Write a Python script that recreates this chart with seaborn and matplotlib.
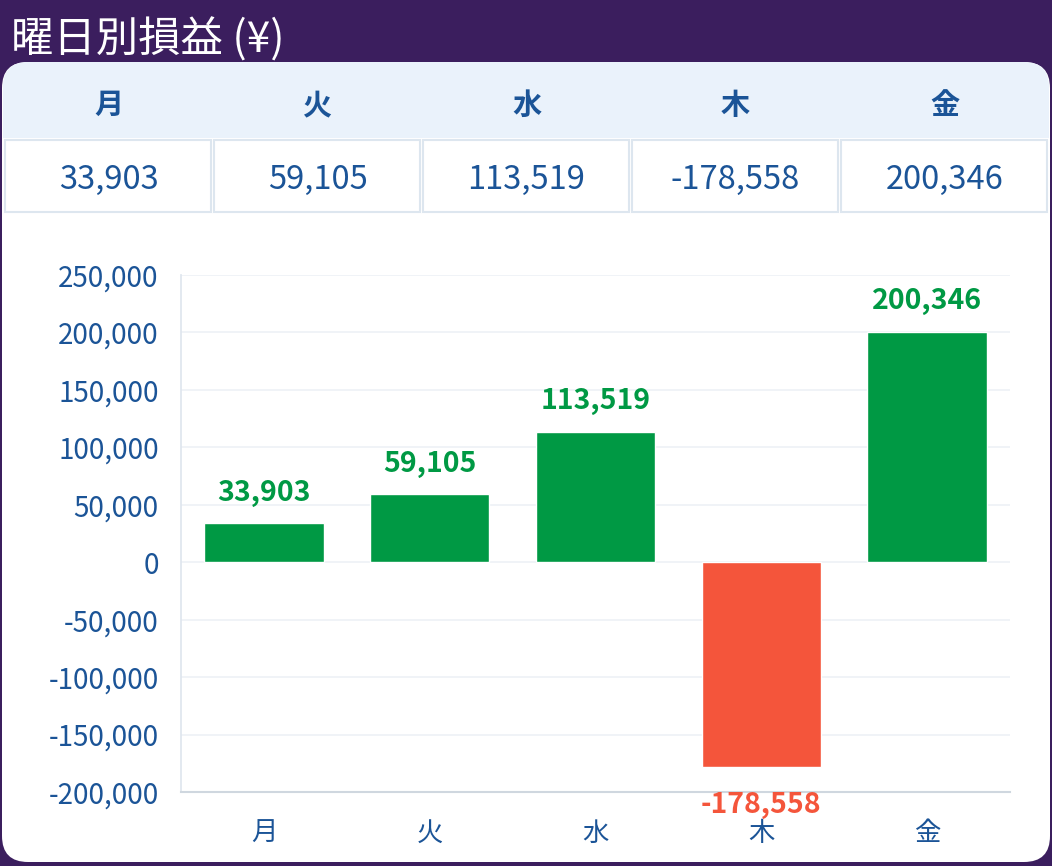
import matplotlib
matplotlib.use("Agg")
import matplotlib.pyplot as plt
from matplotlib.patches import FancyBboxPatch, Rectangle
from matplotlib.transforms import IdentityTransform
from matplotlib.ticker import FuncFormatter
import seaborn as sns
import pandas as pd

# data
days = ['月', '火', '水', '木', '金']
pnl = [33903, 59105, 113519, -178558, 200346]
y_ticks = [-200000, -150000, -100000, -50000, 0, 50000, 100000, 150000, 200000, 250000]

purple = '#3b1e5e'
blue = '#1b5497'
green = '#009944'
red = '#f4553b'

sns.set_theme(style="white")
plt.rcParams['font.family'] = ['Noto Sans CJK JP', 'DejaVu Sans']

W, H = 1052, 866
fig = plt.figure(figsize=(W / 100, H / 100), dpi=100)
fig.patch.set_facecolor(purple)
px = IdentityTransform()


def fx(x):
    return x / W


def fy(y):
    return 1 - y / H


def box(x, y_top, w, h, color, r=0, ec='none', lw=0, z=0):
    # pixel box, y measured from the top of the picture
    if r:
        p = FancyBboxPatch((x, H - y_top - h), w, h,
                           boxstyle=f"round,pad=0,rounding_size={r}",
                           transform=px, facecolor=color, edgecolor=ec,
                           linewidth=lw, zorder=z)
    else:
        p = Rectangle((x, H - y_top - h), w, h, transform=px, facecolor=color,
                      edgecolor=ec, linewidth=lw, zorder=z)
    fig.patches.append(p)


# title
fig.text(fx(11), fy(40), '曜日別損益 (¥)', color='white', fontsize=30.5,
         va='center', ha='left')

# card
box(2, 62, 1048, 800, 'white', r=26, z=-3)
box(3, 62, 1046, 120, '#eaf2fb', r=25, z=-2)
box(3, 138, 1046, 80, 'white', z=-1)

# table
col_w = 209
x0 = 4
for i, (d, v) in enumerate(zip(days, pnl)):
    left = x0 + i * col_w
    cx = left + col_w / 2
    fig.text(fx(cx), fy(105), d, color=blue, fontsize=21, fontweight='bold',
             ha='center', va='center')
    box(left + 1, 140, col_w - 3, 72, 'white', ec='#dde6ef', lw=1.5, z=0)
    fig.text(fx(cx), fy(180), f'{v:,}', color=blue, fontsize=23.5,
             ha='center', va='center')

# bar chart
ax = fig.add_axes([fx(181), fy(792), fx(1010 - 181), (792 - 275) / H])
ax.set_facecolor('none')
df = pd.DataFrame({'day': days, 'pnl': pnl})
colors = {d: (green if v >= 0 else red) for d, v in zip(days, pnl)}
sns.barplot(data=df, x='day', y='pnl', hue='day', palette=colors,
            legend=False, width=0.72, saturation=1, ax=ax)

ax.set_ylim(-200000, 250000)
ax.set_yticks(y_ticks)
ax.yaxis.set_major_formatter(FuncFormatter(lambda v, p: f'{int(v):,}'))
ax.set_xlabel('')
ax.set_ylabel('')
ax.grid(axis='y', color='#edf1f6', linewidth=1.2)
ax.set_axisbelow(True)
ax.tick_params(axis='y', length=0, pad=16, labelsize=20, labelcolor=blue)
ax.tick_params(axis='x', length=0, pad=20, labelsize=19, labelcolor=blue)
for s in ['top', 'right']:
    ax.spines[s].set_visible(False)
ax.spines['left'].set_color('#dfe6ee')
ax.spines['left'].set_linestyle((0, (2, 1)))
ax.spines['bottom'].set_color('#cfd7df')
ax.spines['bottom'].set_linewidth(1.5)

for i, v in enumerate(pnl):
    if v >= 0:
        ax.annotate(f'{v:,}', (i, v), xytext=(0, 12), textcoords='offset points',
                    ha='center', va='bottom', color=green, fontsize=20.5,
                    fontweight='bold')
    else:
        ax.annotate(f'{v:,}', (i, v), xytext=(0, -17), textcoords='offset points',
                    ha='center', va='top', color=red, fontsize=20.5,
                    fontweight='bold')

fig.savefig('out.png', dpi=100, facecolor=fig.get_facecolor())
